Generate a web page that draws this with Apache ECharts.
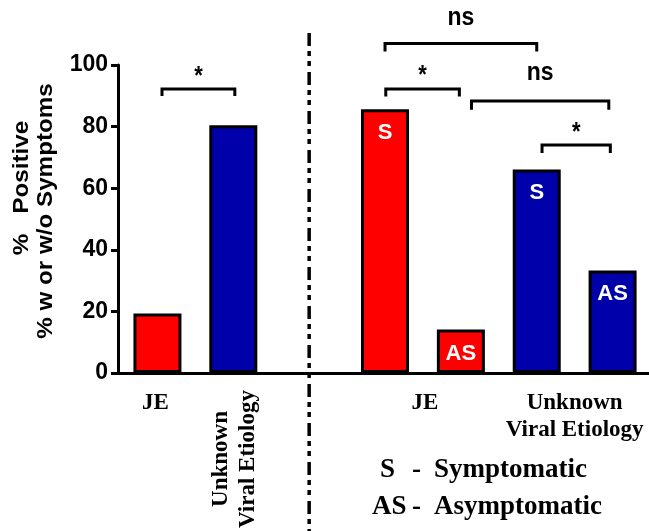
<!DOCTYPE html>
<html><head><meta charset="utf-8">
<script src="https://cdn.jsdelivr.net/npm/echarts@6/dist/echarts.min.js"></script>
<style>html,body{margin:0;padding:0;background:#fff}#c{width:649px;height:531px}</style>
</head><body><div id="c"></div>
<script>
// ---------- data ----------
const overallCategories = ['JE', 'Unknown\nViral Etiology'];
const overallValues = [19.3, 80.4];
const symptomCategories = ['JE', 'Unknown\nViral Etiology'];
const symptomLabels = ['S', 'AS'];
const jeBySymptom = [85.6, 14.1];
const unknownBySymptom = [66.1, 33.3];
const yTicks = [0, 20, 40, 60, 80, 100];
// comparisons between bars (indices into the bar list, in drawing order)
const comparisons = [
  { from: 0, to: 1, label: '*' },
  { from: 2, to: 4, label: 'ns' },
  { from: 2, to: 3, label: '*' },
  { from: 3, to: 5, label: 'ns' },
  { from: 4, to: 5, label: '*' }
];
const legendItems = [['S', 'Symptomatic'], ['AS', 'Asymptomatic']];
const yTitleLines = ['%   Positive', '% w or w/o Symptoms'];

// ---------- layout / style ----------
const RED = '#ff0000', BLUE = '#0000aa';
const diseaseColors = [RED, BLUE];
const SANS = 'Liberation Sans', SERIF = 'Liberation Serif';
// bracket geometry (value units), one entry per comparison
const bracketLayout = [
  { y: 92.2, leg: 2.3, dx0: 0.06, dx1: 0.02, ly: 98.2 },
  { y: 107.0, leg: 2.6, dx0: 0.00, dx1: 0.00, ly: 115.7 },
  { y: 92.2, leg: 2.4, dx0: 0.01, dx1: -0.02, ly: 98.4 },
  { y: 88.3, leg: 2.8, dx0: 0.14, dx1: -0.05, ly: 97.8 },
  { y: 74.0, leg: 2.6, dx0: 0.07, dx1: -0.03, ly: 79.9 }
];

// build bar list: left panel slots 0..1, separator slot 2, right panel slots 3..6
const bars = [];
overallValues.forEach((v, i) => bars.push({ slot: i, value: v, color: diseaseColors[i], label: '' }));
[jeBySymptom, unknownBySymptom].forEach((arr, d) => {
  arr.forEach((v, s) => bars.push({ slot: 3 + d * 2 + s, value: v, color: diseaseColors[d], label: symptomLabels[s] }));
});
const SEP_SLOT = 2;

const chart = echarts.init(document.getElementById('c'), null, { renderer: 'canvas' });

const series = [{
  type: 'bar',
  barWidth: 48,
  z: 2,
  itemStyle: { borderColor: '#000', borderWidth: 3 },
  label: {
    show: true, position: 'insideTop', distance: 13, color: '#fff',
    fontFamily: SANS, fontWeight: 'bold', fontSize: 22,
    formatter: p => p.data.lab
  },
  data: bars.map(b => ({ value: [b.slot, b.value], lab: b.label, itemStyle: { color: b.color } }))
}];

comparisons.forEach((c, i) => {
  const L = bracketLayout[i];
  const x0 = bars[c.from].slot + L.dx0, x1 = bars[c.to].slot + L.dx1;
  series.push({
    type: 'line', clip: false, symbol: 'none', silent: true, z: 3,
    lineStyle: { color: '#000', width: 3, cap: 'butt', join: 'miter' },
    data: [[x0, L.y - L.leg], [x0, L.y], [x1, L.y], [x1, L.y - L.leg]]
  });
});

chart.setOption({
  animation: false,
  backgroundColor: '#fff',
  grid: { left: 118, right: 0, top: 65, bottom: 158 },
  xAxis: {
    type: 'value', min: -0.52, max: 6.48,
    axisLine: { show: true, onZero: false, lineStyle: { color: '#000', width: 3 } },
    axisTick: { show: false }, axisLabel: { show: false }, splitLine: { show: false }
  },
  yAxis: {
    type: 'value', min: yTicks[0], max: yTicks[yTicks.length - 1], interval: yTicks[1] - yTicks[0],
    axisLine: { show: true, onZero: false, lineStyle: { color: '#000', width: 3 } },
    axisTick: { show: true, length: 7, lineStyle: { color: '#000', width: 3 } },
    axisLabel: { color: '#000', fontFamily: SANS, fontWeight: 'bold', fontSize: 23, margin: 10 },
    splitLine: { show: false }
  },
  series
});

function px(x, y) { return chart.convertToPixel({ xAxisIndex: 0, yAxisIndex: 0 }, [x, y]); }

const g = [];
// separator
const sx = px(SEP_SLOT, 0)[0];
g.push({ type: 'line', shape: { x1: sx, y1: 33, x2: sx, y2: 531 },
  style: { stroke: '#000', lineWidth: 3.5, lineDash: [13, 5, 5, 5, 5, 6] }, z: 10 });

// comparison labels
comparisons.forEach((c, i) => {
  const L = bracketLayout[i];
  const xm = (bars[c.from].slot + L.dx0 + bars[c.to].slot + L.dx1) / 2;
  const p = px(xm, L.ly);
  const isStar = c.label === '*';
  g.push({ type: 'text', x: p[0], y: p[1] + (isStar ? 6 : 1), scaleY: 1.15,
    style: { text: c.label, font: 'bold ' + (isStar ? 22 : 23) + 'px "' + SANS + '"',
      fill: '#000', align: 'center', verticalAlign: 'middle' }, z: 10 });
});

// category labels
const serifFont = 'bold 23px "' + SERIF + '"';
let p0 = px(bars[0].slot, 0);
g.push({ type: 'text', x: p0[0] - 2, y: 403, style: { text: overallCategories[0], font: serifFont, fill: '#000', align: 'center', verticalAlign: 'middle' }, z: 10 });
let p1 = px(bars[1].slot, 0);
g.push({ type: 'text', x: p1[0] + 1, y: 459, rotation: Math.PI / 2,
  style: { text: overallCategories[1], font: serifFont, lineHeight: 27, fill: '#000', align: 'center', verticalAlign: 'middle' }, z: 10 });
symptomCategories.forEach((cat, d) => {
  const xm = px(3 + d * 2 + 0.5, 0)[0];
  const lines = cat.split('\n').length;
  g.push({ type: 'text', x: xm + (d === 0 ? 2 : 0), y: 403 + (lines - 1) * 13.5,
    style: { text: cat, font: serifFont, lineHeight: 27, fill: '#000', align: 'center', verticalAlign: 'middle' }, z: 10 });
});

// symptom legend (text)
const legFont = 'bold 27px "' + SERIF + '"';
const legY = [470, 507];
const abbrX = [380, 372];
legendItems.forEach((it, i) => {
  g.push({ type: 'text', x: abbrX[i], y: legY[i], style: { text: it[0], font: legFont, fill: '#000', align: 'left', verticalAlign: 'middle' }, z: 10 });
  g.push({ type: 'text', x: 412, y: legY[i], style: { text: '-', font: legFont, fill: '#000', align: 'left', verticalAlign: 'middle' }, z: 10 });
  g.push({ type: 'text', x: 434, y: legY[i], style: { text: it[1], font: legFont, fill: '#000', align: 'left', verticalAlign: 'middle' }, z: 10 });
});

// y-axis title
const yTitleX = [22, 46], yTitleY = [188, 211];
yTitleLines.forEach((t, i) => {
  g.push({ type: 'text', x: yTitleX[i], y: yTitleY[i], rotation: Math.PI / 2, scaleX: 1.1,
    style: { text: t, font: 'bold 22px "' + SANS + '"', fill: '#000', align: 'center', verticalAlign: 'middle' }, z: 10 });
});

chart.setOption({ graphic: g });
</script></body></html>
